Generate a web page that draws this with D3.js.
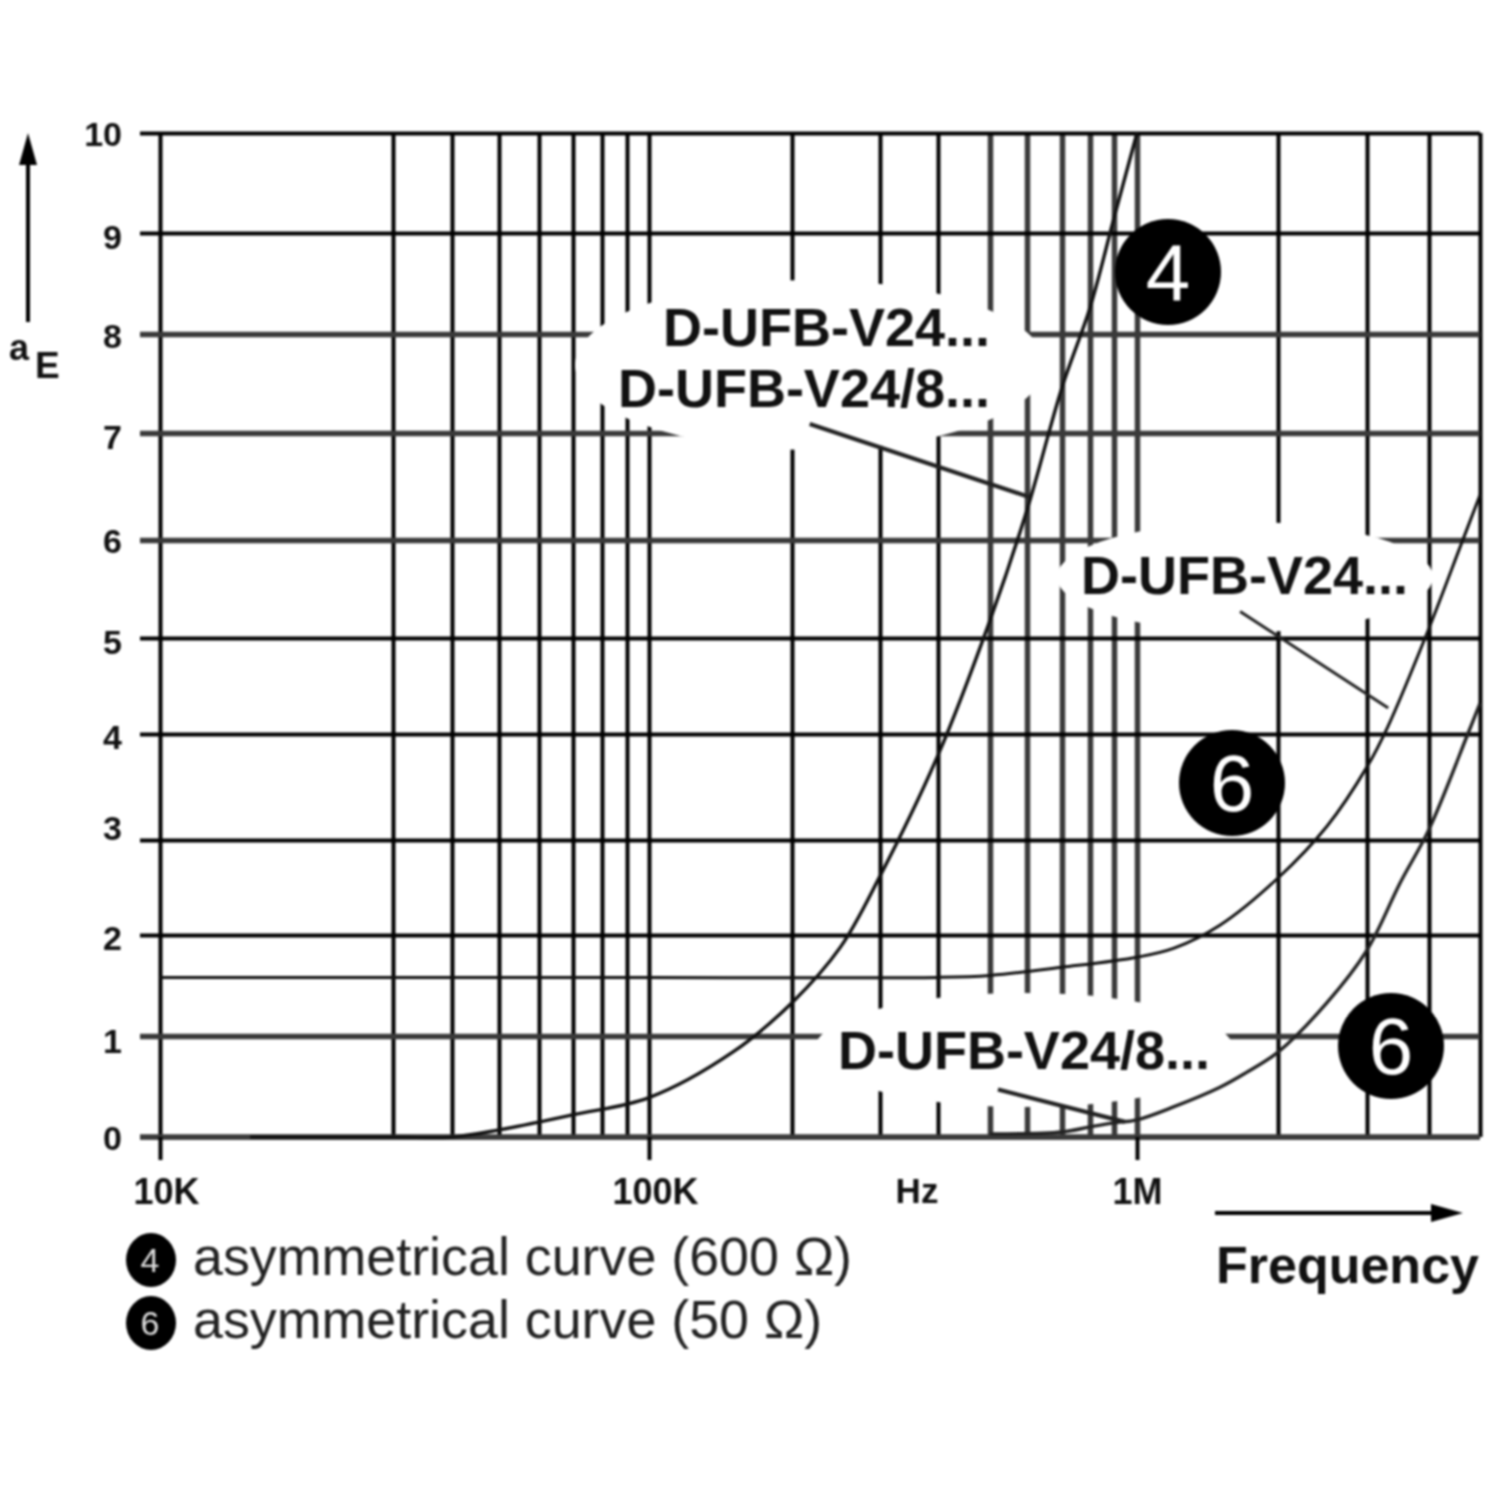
<!DOCTYPE html>
<html><head><meta charset="utf-8">
<script src="https://cdn.jsdelivr.net/npm/d3@7"></script>
<style>
html,body{margin:0;padding:0;background:#fff}
svg{display:block;filter:blur(0.8px)}
text{font-family:"Liberation Sans",Arial,sans-serif;fill:#111}
</style></head><body>
<svg id="c" width="1500" height="1500"></svg>
<script>
// ---- data ----
const gridFreqs=[1e4,3e4,4e4,5e4,6e4,7e4,8e4,9e4,1e5,2e5,3e5,4e5,5e5,6e5,7e5,8e5,9e5,1e6,2e6,3e6,4e6,5e6];
const decadeFreqs=[1e4,1e5,1e6];
const decadeLabels=["10K","100K","1M"];
const aeTicks=[0,1,2,3,4,5,6,7,8,9,10];

const curve600Freq=[15.3e3,30e3,40e3,50e3,70e3,100e3,150e3,200e3,250e3,300e3,400e3,500e3,600e3,700e3,800e3,900e3,1e6];
const curve600Val =[0,0,0,0.07,0.22,0.39,0.84,1.33,1.88,2.62,3.8,5.18,6.28,7.46,8.26,9.15,10];

const curve50aFreq=[1e4,100e3,400e3,500e3,700e3,1e6,1.2e6,1.5e6,2e6,2.5e6,3e6,3.3e6,4e6,4.6e6,5e6];
const curve50aVal =[1.58,1.58,1.58,1.6,1.68,1.78,1.87,2.1,2.6,3.13,3.69,4.07,5.1,5.95,6.42];

const curve50bFreq=[500e3,700e3,800e3,900e3,1e6,1.2e6,1.5e6,1.7e6,2e6,2.5e6,3e6,3.5e6,4e6,4.74e6,5e6];
const curve50bVal =[0.03,0.05,0.1,0.14,0.17,0.3,0.49,0.63,0.84,1.33,1.85,2.55,3.1,4,4.32];

const leaderFreq=[[217e3,608e3],[1.66e6,3.31e6],[520e3,946e3]];
const leaderVal =[[7.09,6.4],[5.27,4.27],[0.47,0.15]];

const partLabels=["D-UFB-V24...","D-UFB-V24/8...","D-UFB-V24...","D-UFB-V24/8..."];
const badgeDigits=["4","6","6"];
const legendDigits=["4","6"];
const legendTexts=["asymmetrical curve (600 Ω)","asymmetrical curve (50 Ω)"];

// ---- scales ----
const x=d3.scaleLog().domain(gridFreqs).range([160,393,452,499,539,573,602,627,649,792,880,938,990,1027,1062,1090,1114,1137,1278,1367,1429,1480]);
const y=d3.scaleLinear().domain(aeTicks).range([1137,1036,935,840,734,638,540,433,334,233,133]);
const svg=d3.select("#c");
const softV=f=>f>=5e5&&f<=1e6;
const softH=v=>v===1||v===6||v===7||v===8;
const labelNudge={0:0,1:4,2:2,3:-13,4:2,5:3,6:0,7:3,8:1,9:3,10:0};

// ---- grid via axes ----
const gx=svg.append("g").attr("transform",`translate(0,${y(0)})`)
 .call(d3.axisBottom(x).tickValues(gridFreqs).tickSize(-(y(0)-y(10))).tickFormat(""));
gx.select(".domain").remove();
gx.selectAll(".tick line").attr("stroke",d=>softV(d)?"#3a3a3a":"#000").attr("stroke-width",d=>softV(d)?5.5:4);

const gy=svg.append("g").attr("transform","translate(140,0)")
 .call(d3.axisLeft(y).tickValues(aeTicks).tickSize(-(x(5e6)-140)).tickPadding(18).tickFormat(d3.format("d")));
gy.select(".domain").remove();
gy.selectAll(".tick line").attr("stroke",d=>softH(d)?"#3a3a3a":"#000").attr("stroke-width",d=>softH(d)?5.5:4);
gy.selectAll(".tick text").attr("font-size",34).attr("font-weight",700).attr("font-family",null)
  .attr("dy",d=>(labelNudge[d]+12)+"px");

// ---- white halos behind labels ----
const halos=[[810,365,235,85],[1245,577,188,55],[1024,1050,210,57]];
svg.append("g").selectAll("ellipse").data(halos).join("ellipse")
 .attr("cx",d=>d[0]).attr("cy",d=>d[1]).attr("rx",d=>d[2]).attr("ry",d=>d[3]).attr("fill","#fff");

// baseline
svg.append("line").attr("x1",140).attr("x2",x(5e6)).attr("y1",y(0)).attr("y2",y(0)).attr("stroke","#3a3a3a").attr("stroke-width",5.5);

// decade ticks extend below the axis
const gd=svg.append("g").attr("transform",`translate(0,${y(0)})`)
 .call(d3.axisBottom(x).tickValues(decadeFreqs).tickSize(23).tickPadding(18).tickFormat((d,i)=>decadeLabels[i]));
gd.select(".domain").remove();
gd.selectAll(".tick line").attr("stroke","#000").attr("stroke-width",4);
gd.selectAll(".tick text").attr("font-size",36).attr("font-weight",700).attr("font-family",null)
  .attr("dx",(d,i)=>i<2?"6":"0");

// ---- curves ----
const line=d3.line().x(d=>x(d[0])).y(d=>y(d[1])).curve(d3.curveCatmullRom.alpha(0.5));
const curves=[[curve600Freq,curve600Val,"#111",3.4],[curve50aFreq,curve50aVal,"#111",3],[curve50bFreq,curve50bVal,"#222",3.4]];
svg.append("g").selectAll("path").data(curves).join("path")
 .attr("d",c=>line(d3.zip(c[0],c[1]))).attr("fill","none").attr("stroke",c=>c[2]).attr("stroke-width",c=>c[3]);

// ---- leaders ----
svg.append("g").selectAll("path").data(leaderFreq.map((f,i)=>d3.zip(f,leaderVal[i]))).join("path")
 .attr("d",d3.line().x(d=>x(d[0])).y(d=>y(d[1]))).attr("fill","none").attr("stroke","#222").attr("stroke-width",(d,i)=>i==1?3:4.2);

// ---- part labels ----
const labelPos=[[990,346],[990,407],[1408,594],[1210,1069]];
svg.append("g").selectAll("text").data(partLabels).join("text")
 .attr("x",(d,i)=>labelPos[i][0]).attr("y",(d,i)=>labelPos[i][1])
 .attr("text-anchor","end").attr("font-size",54).attr("font-weight",700).text(d=>d);

// ---- badges ----
const badgePos=[[1168,272],[1232,783],[1391,1046]];
const badges=svg.append("g").selectAll("g").data(badgeDigits).join("g")
 .attr("transform",(d,i)=>`translate(${badgePos[i]})`);
badges.append("circle").attr("r",53).attr("fill","#000");
badges.append("text").attr("text-anchor","middle").attr("y",28).attr("font-size",80)
 .style("fill","#fff").text(d=>d);

// ---- legend ----
const legendY=[1260,1323];
const lg=svg.append("g").selectAll("g").data(legendTexts).join("g")
 .attr("transform",(d,i)=>`translate(0,${legendY[i]})`);
lg.append("ellipse").attr("cx",151).attr("rx",25).attr("ry",27).attr("fill","#000");
lg.append("text").attr("x",150).attr("y",12).attr("text-anchor","middle").attr("font-size",34).style("fill","#ddd").text((d,i)=>legendDigits[i]);
lg.append("text").attr("x",193).attr("y",15).attr("font-size",53.8).style("fill","#222").text(d=>d);

// ---- axis titles ----
svg.append("text").attr("x",917).attr("y",1203).attr("text-anchor","middle").attr("font-size",35).attr("font-weight",700).text("Hz");
svg.append("text").attr("x",1216).attr("y",1283).attr("font-size",52).attr("font-weight",700).text("Frequency");
svg.append("text").attr("x",9).attr("y",360).attr("font-size",36).attr("font-weight",700).text("a");
svg.append("text").attr("x",35).attr("y",378).attr("font-size",37).attr("font-weight",700).text("E");

// arrows
svg.append("line").attr("x1",28).attr("x2",28).attr("y1",322).attr("y2",160).attr("stroke","#000").attr("stroke-width",4);
svg.append("path").attr("d",d3.line()([[28,133],[37,165],[19,165]])).attr("fill","#000");
svg.append("line").attr("x1",1215).attr("x2",1445).attr("y1",1213).attr("y2",1213).attr("stroke","#000").attr("stroke-width",4);
svg.append("path").attr("d",d3.line()([[1463,1213],[1431,1204],[1431,1222]])).attr("fill","#000");
</script>
</body></html>
